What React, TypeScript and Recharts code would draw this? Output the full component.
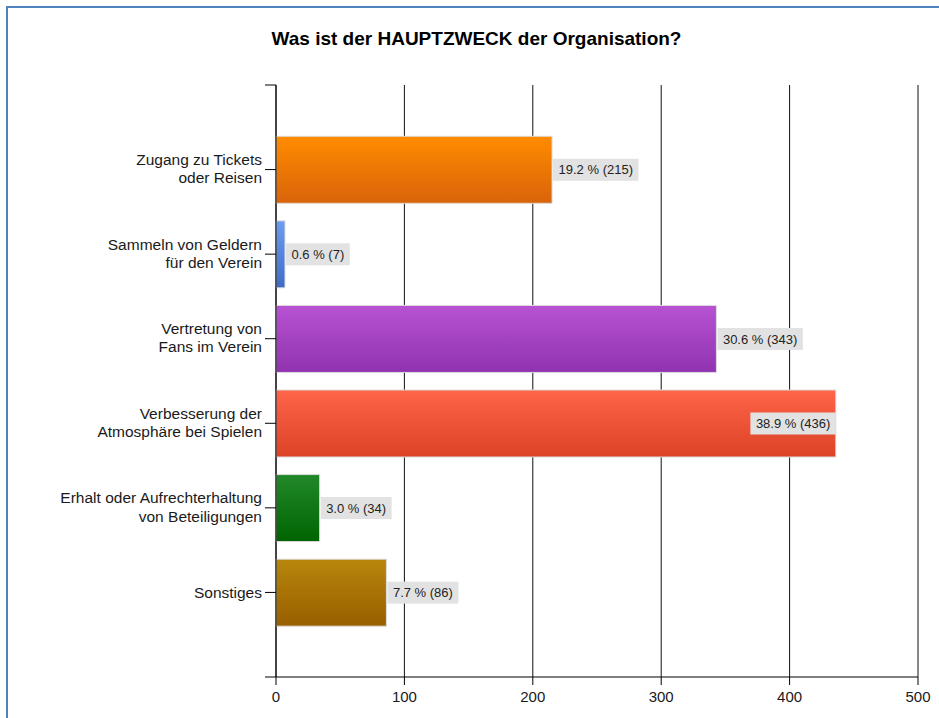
import React from 'react';
import { BarChart, Bar, XAxis, YAxis, CartesianGrid, Cell, LabelList } from 'recharts';

const categories = [
  'Zugang zu Tickets\noder Reisen',
  'Sammeln von Geldern\nfür den Verein',
  'Vertretung von\nFans im Verein',
  'Verbesserung der\nAtmosphäre bei Spielen',
  'Erhalt oder Aufrechterhaltung\nvon Beteiligungen',
  'Sonstiges',
];
const counts = [215, 7, 343, 436, 34, 86];
const percents = [19.2, 0.6, 30.6, 38.9, 3.0, 7.7];
const xTicks = [0, 100, 200, 300, 400, 500];
const yTicks = [0, 1, 2, 3, 4, 5, 6, 7];
const colorsTop = ['#ff8c00', '#6d9cf0', '#b752d3', '#fe6549', '#22892a', '#b8860b'];
const colorsBottom = ['#d9630a', '#3f6cc8', '#9033b0', '#dc4224', '#006400', '#985f00'];

const TITLE = 'Was ist der HAUPTZWECK der Organisation?';
const FONT = "'Liberation Sans', Arial, sans-serif";

const CHART_W = 939;
const CHART_H = 718;
const MARGIN = { top: 85, right: 21, left: 0, bottom: 11 };
const PLOT_RIGHT = CHART_W - MARGIN.right;

const data = categories.map((c, i) => ({
  pos: i + 1,
  name: c,
  value: counts[i],
  label: `${percents[i].toFixed(1)} % (${counts[i]})`,
}));

let ctx: CanvasRenderingContext2D | null = null;
function measure(text: string, font: string): number {
  if (!ctx) {
    const c = document.createElement('canvas');
    ctx = c.getContext('2d');
  }
  if (!ctx) return text.length * 7;
  ctx.font = font;
  return ctx.measureText(text).width;
}

const YTick = (props: any) => {
  const { x, y, payload } = props;
  const idx = Number(payload.value) - 1;
  if (idx < 0 || idx >= categories.length) return null;
  const lines = categories[idx].split('\n');
  const lh = 18.3;
  const first = lines.length === 1 ? 5.5 : -4.6;
  return (
    <text x={x} y={y} textAnchor="end" fontSize={15.5} fill="#1a1a1a" fontFamily={FONT}>
      {lines.map((l, i) => (
        <tspan key={i} x={x} y={y + first + i * lh}>
          {l}
        </tspan>
      ))}
    </text>
  );
};

const ValueLabel = (props: any) => {
  const vb = props.viewBox ?? props;
  const x = Number(vb.x);
  const y = Number(vb.y);
  const w = Number(vb.width);
  const h = Number(vb.height);
  const text = String(props.value);
  const fs = 13;
  const tw = measure(text, `${fs}px ${FONT}`);
  const boxW = tw + 11;
  const boxH = 22;
  const end = x + w;
  let bx = end + 1;
  if (bx + boxW > PLOT_RIGHT) bx = end - boxW;
  const cy = y + h / 2;
  return (
    <g>
      <rect x={bx} y={cy - boxH / 2} width={boxW} height={boxH} fill="#e2e2e2" />
      <text x={bx + 5.5} y={cy + 4.6} fontSize={fs} fill="#222" fontFamily={FONT}>
        {text}
      </text>
    </g>
  );
};

export default function App() {
  return (
    <div
      style={{
        position: 'absolute',
        left: 0,
        top: 0,
        width: CHART_W,
        height: CHART_H,
        overflow: 'hidden',
        background: '#fff',
        fontFamily: FONT,
      }}
    >
      <div
        style={{
          position: 'absolute',
          left: 6,
          top: 6,
          width: 2000,
          height: 2000,
          borderTop: '2px solid #4f81bd',
          borderLeft: '2px solid #4f81bd',
        }}
      />
      <div
        style={{
          position: 'absolute',
          left: 0,
          top: 29,
          width: 953,
          textAlign: 'center',
          fontSize: 19,
          fontWeight: 'bold',
          lineHeight: '20px',
          color: '#000',
        }}
      >
        {TITLE}
      </div>
      <div style={{ position: 'absolute', left: 0, top: 0 }}>
        <BarChart width={CHART_W} height={CHART_H} data={data} layout="vertical" margin={MARGIN}>
          <defs>
            {colorsTop.map((c, i) => (
              <linearGradient key={i} id={`grad${i}`} x1="0" y1="0" x2="0" y2="1">
                <stop offset="0%" stopColor={c} />
                <stop offset="100%" stopColor={colorsBottom[i]} />
              </linearGradient>
            ))}
          </defs>
          <CartesianGrid horizontal={false} vertical={true} stroke="#111" strokeWidth={1} />
          <XAxis
            type="number"
            dataKey="value"
            domain={[0, 500]}
            ticks={xTicks}
            interval={0}
            tickSize={8}
            tickMargin={6}
            height={30}
            axisLine={{ stroke: '#000' }}
            tickLine={{ stroke: '#000' }}
            tick={{ fontSize: 15, fill: '#1a1a1a', fontFamily: FONT }}
          />
          <YAxis
            type="number"
            dataKey="pos"
            domain={[0, 7]}
            ticks={yTicks}
            interval={0}
            width={276}
            tickSize={11}
            tickMargin={3}
            axisLine={{ stroke: '#000' }}
            tickLine={{ stroke: '#000' }}
            tick={<YTick />}
          />
          <Bar dataKey="value" barSize={67} isAnimationActive={false} stroke="#dcdcdc" strokeWidth={1}>
            {data.map((d, i) => (
              <Cell key={i} fill={`url(#grad${i})`} />
            ))}
            <LabelList dataKey="label" content={<ValueLabel />} />
          </Bar>
        </BarChart>
      </div>
    </div>
  );
}
